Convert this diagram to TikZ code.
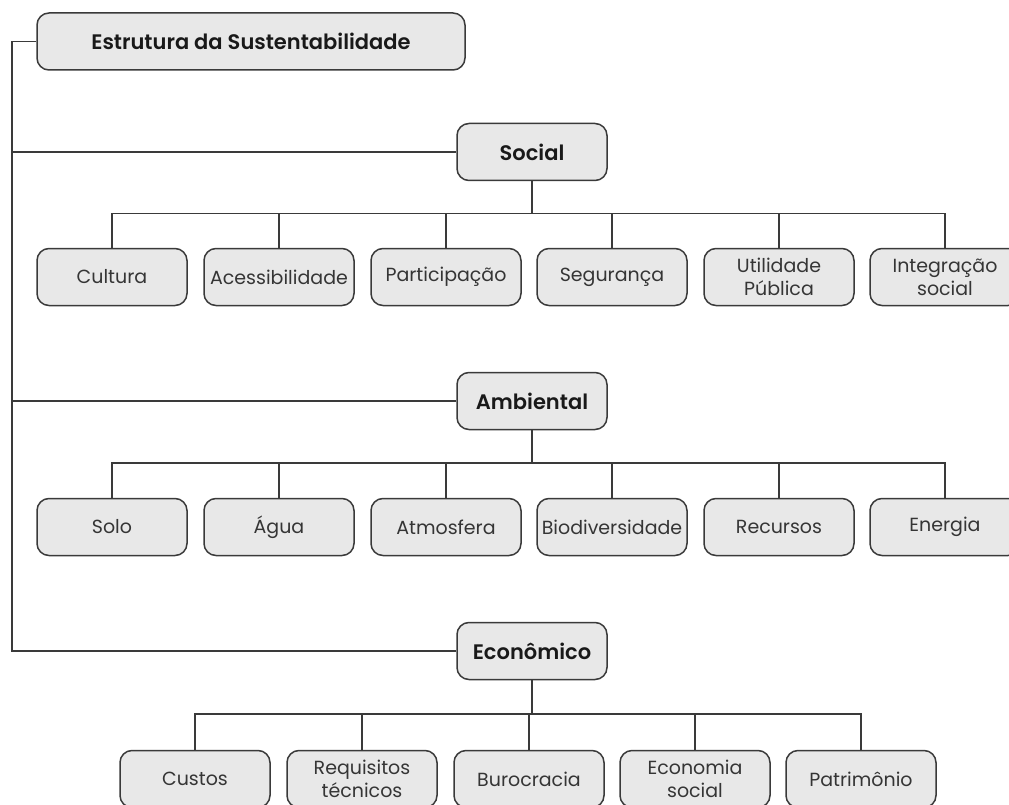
\documentclass[tikz,border=0pt]{standalone}
\usepackage{fontspec}
\setmainfont{Poppins}[BoldFont={* SemiBold}]

\definecolor{boxfill}{HTML}{E8E8E8}
\definecolor{boxline}{HTML}{3A3A3A}
\definecolor{txtgray}{HTML}{353535}

\tikzset{
  leaf/.style={draw=boxline, line width=1.5pt, fill=boxfill, rounded corners=12pt,
    minimum width=150pt, minimum height=57pt, inner sep=1pt, align=center,
    text=txtgray, font=\fontsize{19}{23}\selectfont},
  area/.style={leaf, text=black!90, font=\fontsize{21}{25}\selectfont\bfseries},
  link/.style={draw=boxline, line width=1.5pt}
}

\begin{document}
\begin{tikzpicture}[x=1pt, y=-1pt]
  \useasboundingbox (0,0) rectangle (1009,805);

  % Root and the three pillars
  \node[area, minimum width=428pt] (root) at (251,41.5) {Estrutura da Sustentabilidade};
  \node[area] (soc) at (532,152) {Social};
  \node[area] (amb) at (532,401) {Ambiental};
  \node[area] (eco) at (532,651) {Econômico};

  % Trunk on the left
  \coordinate (trunk) at (12,41.5);
  \draw[link] (root.west) -- (trunk) |- (eco.west);
  \draw[link] (trunk) |- (soc.west);
  \draw[link] (trunk) |- (amb.west);

  % Elements in Social
  \node[leaf] (s1) at (112,277) {Cultura};
  \node[leaf] (s2) at (279,277) {Acessibilidade};
  \node[leaf] (s3) at (446,277) {Participação};
  \node[leaf] (s4) at (612,277) {Segurança};
  \node[leaf] (s5) at (779,277) {Utilidade\\Pública};
  \node[leaf] (s6) at (945,277) {Integração\\social};

  % Elements in Ambiental
  \node[leaf] (a1) at (112,527) {Solo};
  \node[leaf] (a2) at (279,527) {Água};
  \node[leaf] (a3) at (446,527) {Atmosfera};
  \node[leaf] (a4) at (612,527) {Biodiversidade};
  \node[leaf] (a5) at (779,527) {Recursos};
  \node[leaf] (a6) at (945,527) {Energia};

  % Elements in Econômico
  \node[leaf] (e1) at (195,779) {Custos};
  \node[leaf] (e2) at (362,779) {Requisitos\\técnicos};
  \node[leaf] (e3) at (529,779) {Burocracia};
  \node[leaf] (e4) at (695,779) {Economia\\social};
  \node[leaf] (e5) at (861,779) {Patrimônio};

  % Branches for Social
  \draw[link] (soc.south) -- ++(0,32.5) -| (s1.north);
  \draw[link] (soc.south) -- ++(0,32.5) -| (s2.north);
  \draw[link] (soc.south) -- ++(0,32.5) -| (s3.north);
  \draw[link] (soc.south) -- ++(0,32.5) -| (s4.north);
  \draw[link] (soc.south) -- ++(0,32.5) -| (s5.north);
  \draw[link] (soc.south) -- ++(0,32.5) -| (s6.north);

  % Branches for Ambiental
  \draw[link] (amb.south) -- ++(0,32.5) -| (a1.north);
  \draw[link] (amb.south) -- ++(0,32.5) -| (a2.north);
  \draw[link] (amb.south) -- ++(0,32.5) -| (a3.north);
  \draw[link] (amb.south) -- ++(0,32.5) -| (a4.north);
  \draw[link] (amb.south) -- ++(0,32.5) -| (a5.north);
  \draw[link] (amb.south) -- ++(0,32.5) -| (a6.north);

  % Branches for Econômico
  \draw[link] (eco.south) -- ++(0,33.5) -| (e1.north);
  \draw[link] (eco.south) -- ++(0,33.5) -| (e2.north);
  \draw[link] (eco.south) -- ++(0,33.5) -| (e3.north);
  \draw[link] (eco.south) -- ++(0,33.5) -| (e4.north);
  \draw[link] (eco.south) -- ++(0,33.5) -| (e5.north);
\end{tikzpicture}
\end{document}
